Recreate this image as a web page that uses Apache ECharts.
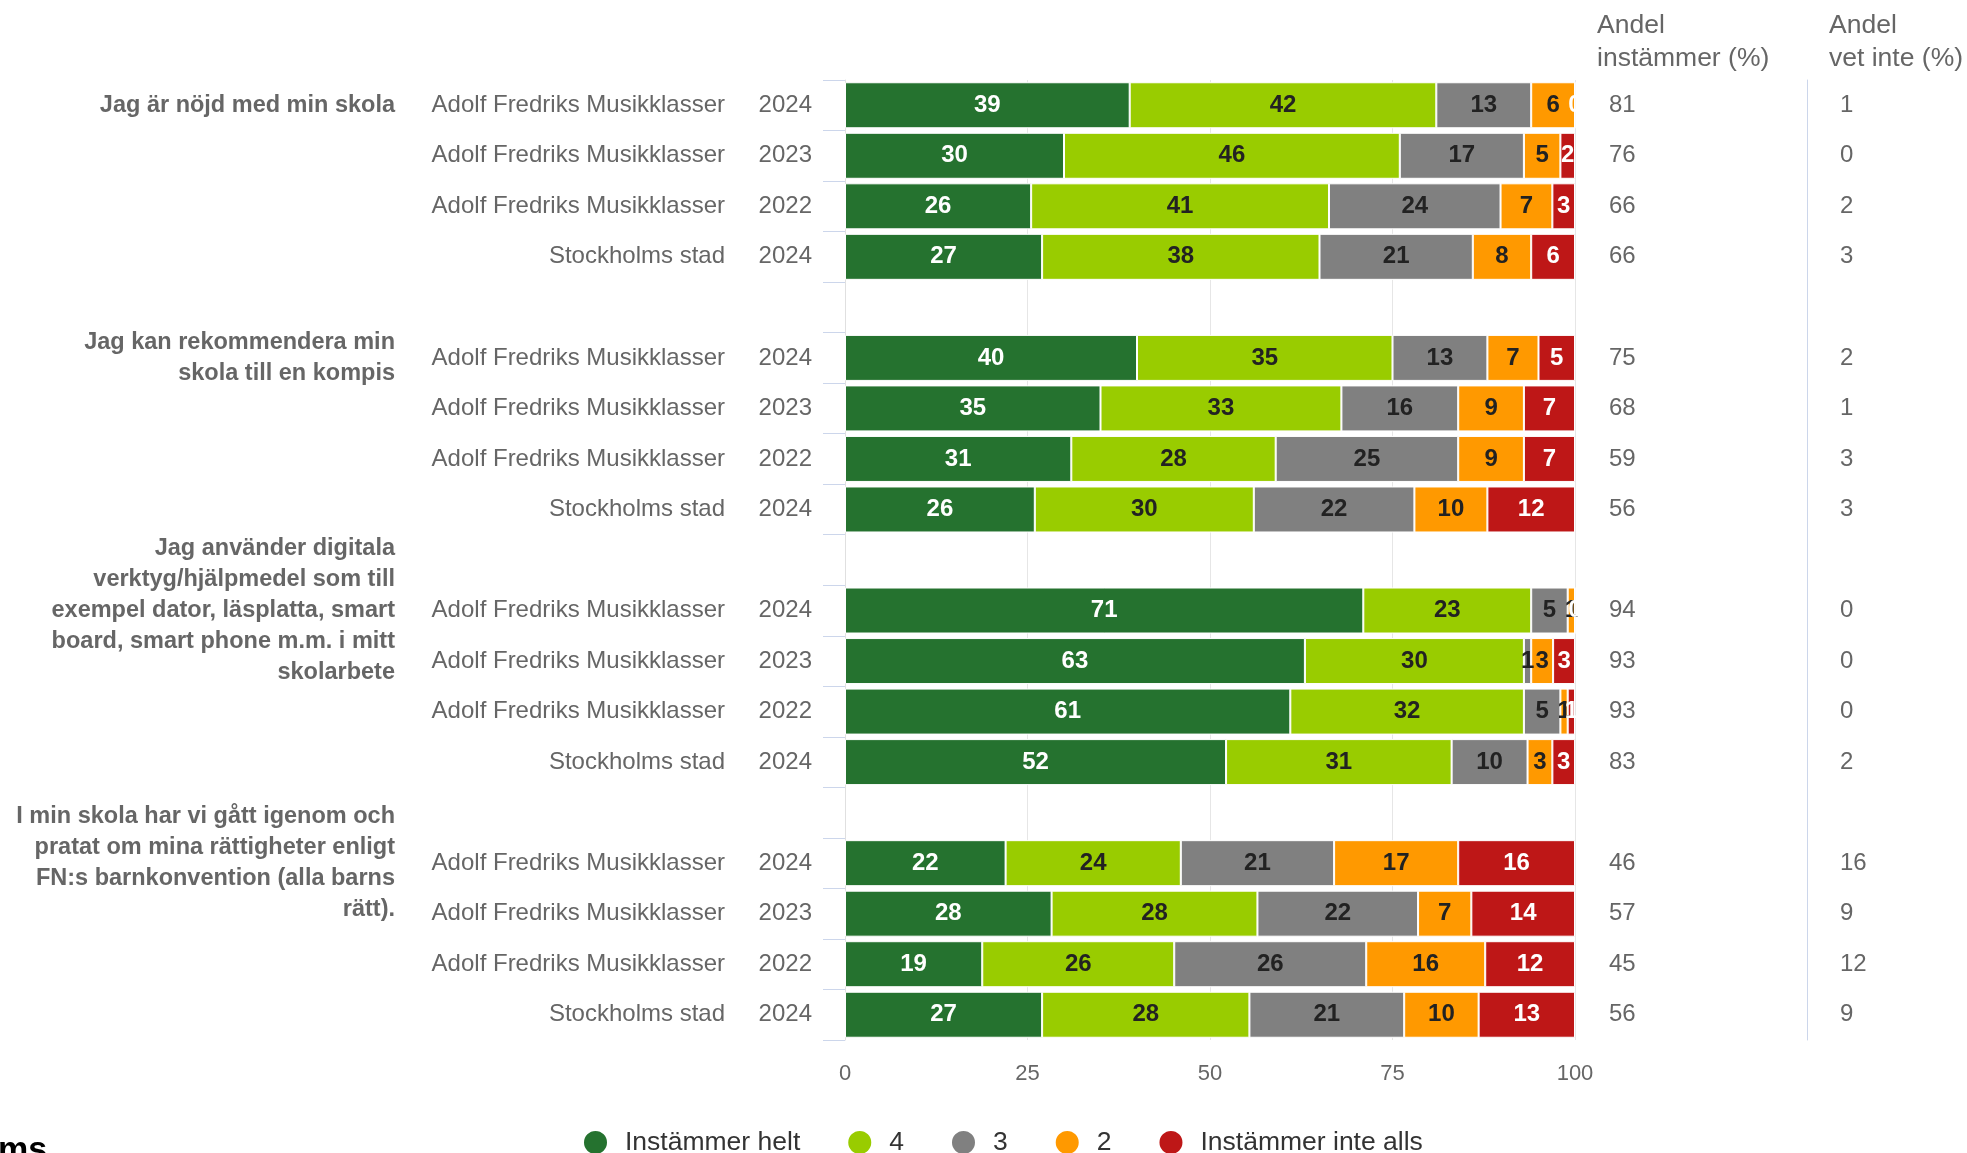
<!DOCTYPE html>
<html>
<head>
<meta charset="utf-8">
<title>Elevenkät</title>
<script src="https://cdn.jsdelivr.net/npm/echarts@6.0.0/dist/echarts.min.js"></script>
<style>
  html, body { margin: 0; padding: 0; background: #fff; }
  #chart { width: 1967px; height: 1153px; }
</style>
</head>
<body>
<div id="chart"></div>
<script>
// frågor, en per grupp om fyra rader
const questions = [
  "Jag är nöjd med min skola",
  "Jag kan rekommendera min\nskola till en kompis",
  "Jag använder digitala\nverktyg/hjälpmedel som till\nexempel dator, läsplatta, smart\nboard, smart phone m.m. i mitt\nskolarbete",
  "I min skola har vi gått igenom och\npratat om mina rättigheter enligt\nFN:s barnkonvention (alla barns\nrätt)."
];
const AF = "Adolf Fredriks Musikklasser";
const units = [AF, AF, AF, "Stockholms stad", AF, AF, AF, "Stockholms stad",
               AF, AF, AF, "Stockholms stad", AF, AF, AF, "Stockholms stad"];
const years = [2024, 2023, 2022, 2024, 2024, 2023, 2022, 2024,
               2024, 2023, 2022, 2024, 2024, 2023, 2022, 2024];

const seriesNames = ["Instämmer helt", "4", "3", "2", "Instämmer inte alls"];
const helt     = [39, 30, 25.5, 27,   40, 35, 31, 26,   71, 63, 61, 52.2,   22, 28.3, 18.8, 27.0];
const fyra     = [42, 46, 40.8, 38,   35, 33, 28, 30,   23, 30, 32, 30.9,   24, 28.2, 26.3, 28.4];
const tre      = [13, 17, 23.5, 21,   13, 16, 25, 22,   5, 1, 5, 10.4,      21, 22.0, 26.3, 21.2];
const tva      = [6, 5, 7.1, 8,       7, 9, 9, 10,      1, 3, 1, 3.4,       17, 7.3, 16.3, 10.2];
const inteAlls = [0, 2, 3.1, 6,       5, 7, 7, 12,      0, 3, 1, 3.1,       16, 14.2, 12.3, 13.2];

const instammer = [81, 76, 66, 66,  75, 68, 59, 56,  94, 93, 93, 83,  46, 57, 45, 56];
const vetInte   = [1, 0, 2, 3,      2, 1, 3, 3,      0, 0, 0, 2,      16, 9, 12, 9];

const xTicks = [0, 25, 50, 75, 100];

const colors = ["#25722f", "#99cc00", "#808080", "#ff9900", "#be1717"];
const labelColors = ["#ffffff", "#222222", "#222222", "#222222", "#ffffff"];
const font = "'Liberation Sans', Arial, Helvetica, sans-serif";

// rader med en tom rad mellan grupperna
const rows = [];
questions.forEach(function (q, qi) {
  for (let r = 0; r < 4; r++) rows.push(qi * 4 + r);
  if (qi < questions.length - 1) rows.push(null);
});
const cats = rows.map(function (r, i) { return String(i); });
const pick = function (arr) {
  return rows.map(function (r) { return r === null ? "-" : arr[r]; });
};
const values = [helt, fyra, tre, tva, inteAlls];

function rowText(getter) {
  return function (val) {
    const r = rows[+val];
    return r === null || r === undefined ? "" : getter(r);
  };
}

function labelAxis(position, margin, formatter, extra, labelExtra) {
  return Object.assign({
    type: "category",
    data: cats,
    inverse: true,
    position: position,
    axisLine: { show: false },
    axisTick: { show: false },
    axisLabel: Object.assign({
      interval: 0,
      margin: margin,
      color: "#666",
      fontSize: 24,
      fontFamily: font,
      formatter: formatter
    }, labelExtra || {})
  }, extra || {});
}

const headerStyle = { fontSize: 26.5, fontWeight: "normal", color: "#666", lineHeight: 33, fontFamily: font };

let myChart = echarts.init(document.getElementById("chart"));
myChart.setOption({
  animation: false,
  textStyle: { fontFamily: font },
  title: [
    { text: "Andel\ninstämmer (%)", left: 1592, top: 4, textStyle: headerStyle },
    { text: "Andel\nvet inte (%)", left: 1824, top: 4, textStyle: headerStyle }
  ],
  legend: {
    data: seriesNames,
    icon: "circle",
    left: 577,
    top: 1124,
    itemWidth: 25,
    itemHeight: 25,
    itemGap: 46,
    textStyle: { fontSize: 26.5, color: "#333", fontFamily: font, padding: [0, 0, 0, 12] }
  },
  grid: {
    left: 845,
    right: 392,
    top: 80,
    bottom: 113
  },
  xAxis: {
    type: "value",
    min: xTicks[0],
    max: xTicks[xTicks.length - 1],
    interval: xTicks[1] - xTicks[0],
    axisLine: { show: false },
    axisTick: { show: false },
    axisLabel: { margin: 23, fontSize: 22, color: "#666", fontFamily: font },
    splitLine: { lineStyle: { color: "#e6e6e6", width: 1 } }
  },
  yAxis: [
    {
      type: "category",
      data: cats,
      inverse: true,
      axisLine: { show: true, lineStyle: { color: "#e0e0e0", width: 1 } },
      axisTick: { show: true, length: 22, lineStyle: { color: "#ccd6eb", width: 1 } },
      axisLabel: {
        interval: 0,
        margin: 33,
        color: "#666",
        fontSize: 24,
        fontFamily: font,
        formatter: rowText(function (r) { return years[r]; })
      }
    },
    labelAxis("left", 120, rowText(function (r) { return units[r]; })),
    // frågetexterna i fetstil, centrerade på gruppens första rad
    labelAxis("left", 450, rowText(function (r) {
      return r % 4 === 0 ? questions[r / 4] : "";
    }), {}, { fontWeight: "bold", fontSize: 23.5, lineHeight: 31 }),
    labelAxis("right", 34, rowText(function (r) { return instammer[r]; })),
    labelAxis("right", 33, rowText(function (r) { return vetInte[r]; }), {
      offset: 232,
      axisLine: { show: true, lineStyle: { color: "#ccd6eb", width: 1 } }
    })
  ],
  series: seriesNames.map(function (name, i) {
    return {
      name: name,
      type: "bar",
      stack: "total",
      barWidth: 46,
      itemStyle: { color: colors[i], borderColor: "#fff", borderWidth: 1 },
      label: {
        show: true,
        position: "inside",
        color: labelColors[i],
        fontSize: 24,
        fontWeight: "bold",
        fontFamily: font,
        formatter: function (p) { return Math.round(p.value); }
      },
      data: pick(values[i])
    };
  }),
  graphic: [
    {
      type: "text",
      left: -2,
      top: 1134,
      style: { text: "ms", fontSize: 34, fontWeight: "bold", fill: "#000", fontFamily: font }
    }
  ]
});
</script>
</body>
</html>
